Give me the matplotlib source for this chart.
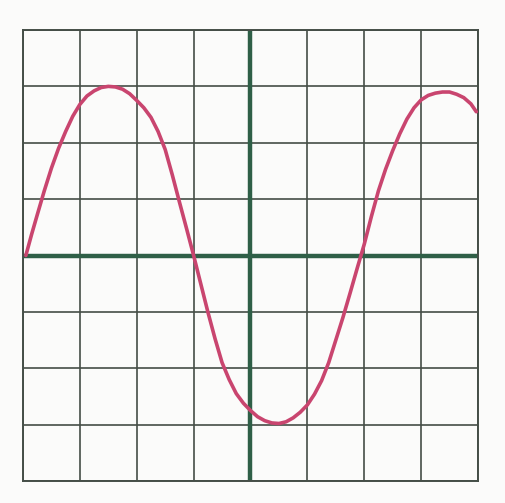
import matplotlib.pyplot as plt
import numpy as np

# points (grid units, 8x8 divisions)
x_vals = [-3.95, -3.85, -3.75, -3.625, -3.5, -3.375, -3.25, -3.125, -3.0, -2.875,
          -2.75, -2.625, -2.5, -2.375, -2.25, -2.125, -2.0, -1.875, -1.75, -1.625,
          -1.5, -1.375, -1.25, -1.125, -1.0, -0.875, -0.75, -0.625, -0.5, -0.375,
          -0.25, -0.125, 0.0, 0.125, 0.25, 0.375, 0.5, 0.625, 0.75, 0.875,
          1.0, 1.125, 1.25, 1.375, 1.5, 1.625, 1.75, 1.875, 2.0, 2.125,
          2.25, 2.375, 2.5, 2.625, 2.75, 2.875, 3.0, 3.125, 3.25, 3.375,
          3.5, 3.625, 3.75, 3.875, 3.97]
y_vals = [0.0, 0.37, 0.72, 1.15, 1.55, 1.9, 2.2, 2.47, 2.68, 2.83,
          2.92, 2.98, 3.0, 2.99, 2.95, 2.87, 2.75, 2.62, 2.45, 2.2,
          1.88, 1.43, 0.95, 0.48, 0.0, -0.5, -1.0, -1.47, -1.9, -2.2,
          -2.45, -2.62, -2.75, -2.86, -2.93, -2.97, -2.98, -2.95, -2.88, -2.78,
          -2.65, -2.46, -2.22, -1.9, -1.5, -1.1, -0.67, -0.23, 0.2, 0.69,
          1.15, 1.53, 1.86, 2.16, 2.42, 2.62, 2.76, 2.84, 2.88, 2.9,
          2.9, 2.86, 2.8, 2.69, 2.55]
divisions = [-4, -3, -2, -1, 0, 1, 2, 3, 4]

paper = "#fbfbfa"
grid_col = "#454e47"
axis_col = "#2f5f47"
trace_col = "#c9456f"

fig = plt.figure(figsize=(5.06, 5.03), dpi=100, facecolor=paper)
ax = fig.add_axes([23/506, 1 - 481/503, 455/506, 451/503])
ax.set_facecolor(paper)

for d in divisions:
    if d == 0:
        continue
    ax.axvline(d, color=grid_col, lw=1.2, zorder=1)
    ax.axhline(d, color=grid_col, lw=1.2, zorder=1)

ax.axvline(0, color=axis_col, lw=3.2, zorder=2)
ax.axhline(0, color=axis_col, lw=3.2, zorder=2)

ax.plot(x_vals, y_vals, color=trace_col, lw=2.6, solid_capstyle="round",
        solid_joinstyle="round", zorder=3)

ax.set_xlim(-4, 4)
ax.set_ylim(-4, 4)
ax.set_xticks([])
ax.set_yticks([])
for s in ax.spines.values():
    s.set_color(grid_col)
    s.set_linewidth(1.4)

fig.savefig("out.png", dpi=100, facecolor=paper)
